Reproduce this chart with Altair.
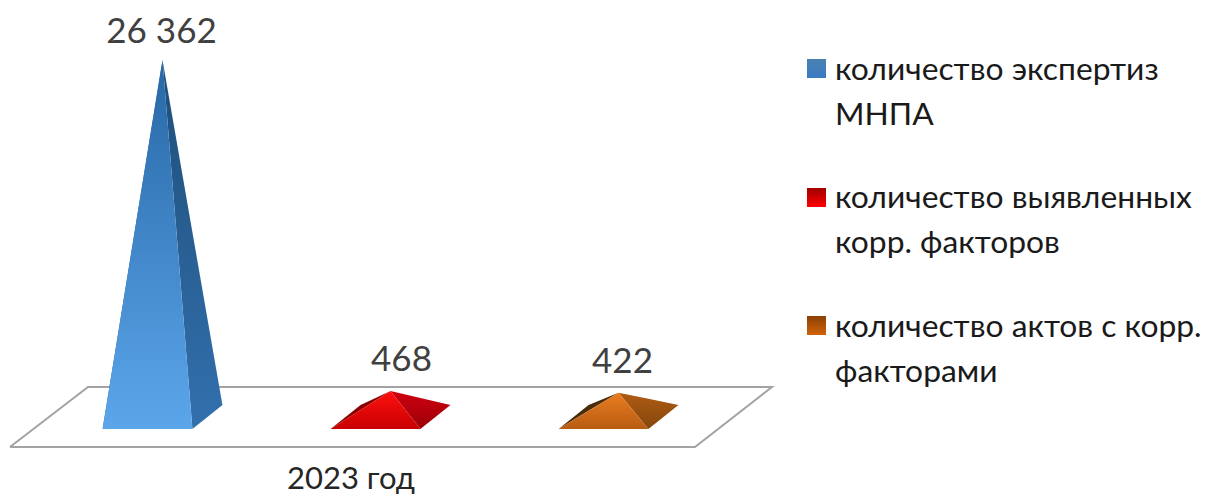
import altair as alt
import pandas as pd

categories = ["количество экспертиз МНПА", "количество выявленных корр. факторов", "количество актов с корр. факторами"]
values = [26362, 468, 422]
legend_lines = [["количество экспертиз", "МНПА"], ["количество выявленных", "корр. факторов"], ["количество актов с корр.", "факторами"]]
year_label = "2023 год"

W, H = 1198, 489
FONT = "Lato"
PX_X, X0 = 228.0, 147.5
PX_Y, Y0 = 357.0, 417.0
X_DOMAIN = [(8 - X0) / PX_X, (8 + W - X0) / PX_X]
Y_DOMAIN = [(Y0 - (8 + H)) / PX_Y, (Y0 - 8) / PX_Y]
x_scale = alt.Scale(domain=X_DOMAIN, range=[0, W], nice=False, zero=False)
y_scale = alt.Scale(domain=Y_DOMAIN, range=[H, 0], nice=False, zero=False)

HALF_W = 0.197
DEPTH_X = 0.0658
DEPTH_Y = 0.0336
EXPONENT = 0.65


def lift(v):
    return (v / max(values)) ** EXPONENT


def grad(top, bottom):
    return alt.Gradient(gradient="linear", x1=0, x2=0, y1=0, y2=1,
                        stops=[alt.GradientStop(color=top, offset=0), alt.GradientStop(color=bottom, offset=1)])


def face(vertices, fill):
    vs = sorted(vertices)
    a, b, c = vs
    mid_y = a[1] + (c[1] - a[1]) * (b[0] - a[0]) / (c[0] - a[0])
    rows = [{"x": a[0], "y": a[1], "y2": a[1]},
            {"x": b[0], "y": b[1], "y2": mid_y},
            {"x": c[0], "y": c[1], "y2": c[1]}]
    return alt.Chart(pd.DataFrame(rows)).mark_area(fill=fill, interpolate="linear").encode(
        x=alt.X("x:Q", scale=x_scale, axis=None),
        y=alt.Y("y:Q", scale=y_scale, axis=None),
        y2="y2:Q",
    )


palette = [
    dict(left="#2a5f96", front=("#2767a6", "#5ba6ea"), right=("#1f4e78", "#3270ae"), swatch=("#4a80b2", "#3a7cc2")),
    dict(left="#8a0000", front=("#ff1010", "#c80000"), right=("#d00010", "#9a0008"), swatch=("#a00000", "#ff0000")),
    dict(left="#4a2c08", front=("#ea7c20", "#b85c12"), right=("#b05c14", "#84460c"), swatch=("#8a4204", "#d26208")),
]

layers = []

floor_front, floor_back = -30 / PX_Y, 30 / PX_Y
floor_xs = [(10 - X0) / PX_X, (695 - X0) / PX_X, (772 - X0) / PX_X, (88 - X0) / PX_X, (10 - X0) / PX_X]
floor_ys = [floor_front, floor_front, floor_back, floor_back, floor_front]
floor = pd.DataFrame({"x": floor_xs, "y": floor_ys, "i": range(5)})
layers.append(alt.Chart(floor).mark_line(color="#a3a3a3", strokeWidth=2).encode(
    x=alt.X("x:Q", scale=x_scale, axis=None),
    y=alt.Y("y:Q", scale=y_scale, axis=None),
    order="i:Q",
))

for i, v in enumerate(values):
    fl = (i - HALF_W, -DEPTH_Y)
    fr = (i + HALF_W, -DEPTH_Y)
    bl = (i - HALF_W + 2 * DEPTH_X, DEPTH_Y)
    br = (i + HALF_W + 2 * DEPTH_X, DEPTH_Y)
    apex = (i + DEPTH_X, lift(v))
    p = palette[i]
    layers.append(face([fl, bl, apex], p["left"]))
    layers.append(face([fr, br, apex], grad(*p["right"])))
    layers.append(face([fl, fr, apex], grad(*p["front"])))

LABEL_DX = [-1, 11, 4]
LABEL_DY = [-28, -31, -31]
for i, v in enumerate(values):
    df = pd.DataFrame({"x": [i + DEPTH_X], "y": [lift(v)], "t": [f"{v:,}".replace(",", " ")]})
    layers.append(alt.Chart(df).mark_text(font=FONT, fontSize=35, color="#404040", dx=LABEL_DX[i], dy=LABEL_DY[i], baseline="middle").encode(
        x=alt.X("x:Q", scale=x_scale, axis=None),
        y=alt.Y("y:Q", scale=y_scale, axis=None),
        text="t:N",
    ))

layers.append(alt.Chart(pd.DataFrame({"t": [year_label]})).mark_text(font=FONT, fontSize=31, color="#262626", baseline="middle").encode(
    x=alt.value(351 - 8), y=alt.value(480 - 8), text="t:N"))

SWATCH_TOP = [59, 188, 316]
LINE_Y = [(70, 115), (198, 243), (327, 372)]
for i, lines in enumerate(legend_lines):
    layers.append(alt.Chart(pd.DataFrame({"c": [categories[i]]})).mark_rect(fill=grad(*palette[i]["swatch"])).encode(
        x=alt.value(807 - 8), x2=alt.value(826 - 8),
        y=alt.value(SWATCH_TOP[i] - 8), y2=alt.value(SWATCH_TOP[i] + 19 - 8)))
    for line, ly in zip(lines, LINE_Y[i]):
        layers.append(alt.Chart(pd.DataFrame({"t": [line]})).mark_text(font=FONT, fontSize=31.8, color="#1a1a1a", align="left", baseline="middle").encode(
            x=alt.value(835 - 8), y=alt.value(ly - 8), text="t:N"))

chart = alt.layer(*layers).properties(width=W, height=H, padding=0, background="white", autosize=alt.AutoSizeParams(type="none")).configure_view(stroke=None)
chart.save("out.html", embed_options={"renderer": "svg", "actions": False})
